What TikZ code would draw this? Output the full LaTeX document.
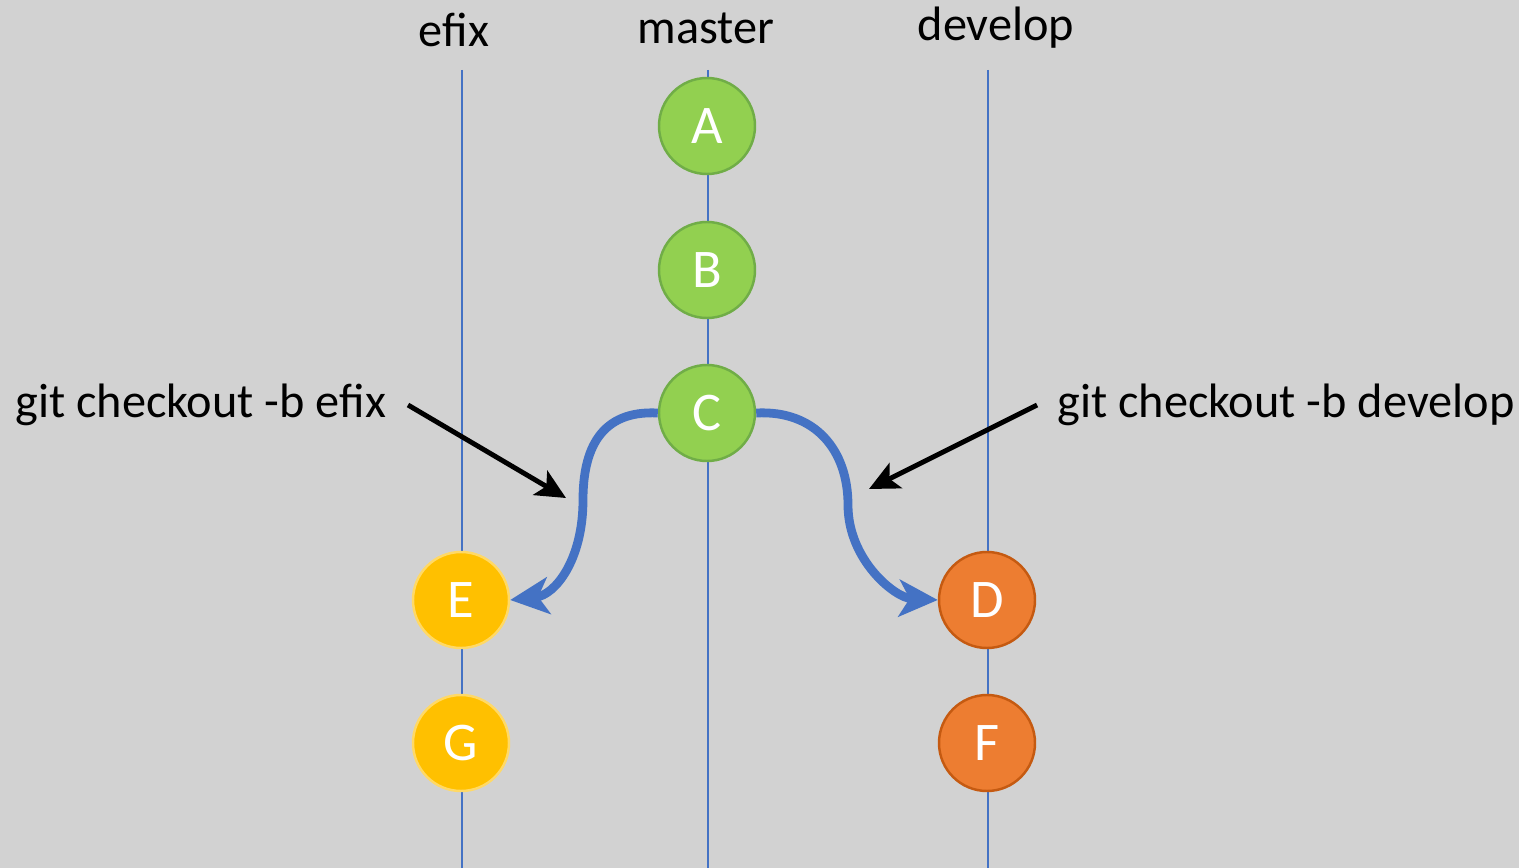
\documentclass[tikz,border=0pt]{standalone}
\usepackage{fontspec}
\setmainfont{Carlito}
\usetikzlibrary{arrows.meta}
\definecolor{bg}{HTML}{D2D2D2}
\definecolor{branch}{HTML}{4472C4}
\definecolor{gfill}{HTML}{92D050}
\definecolor{gdraw}{HTML}{70AD47}
\definecolor{ofill}{HTML}{ED7D31}
\definecolor{odraw}{HTML}{C55A11}
\definecolor{yfill}{HTML}{FFC000}
\definecolor{ydraw}{HTML}{FFD966}
\tikzset{
  commit/.style={circle, minimum size=96*0.02cm, inner sep=0pt, line width=1.4pt, text=white, font=\fontsize{31}{36}\selectfont},
  gcommit/.style={commit, fill=gfill, draw=gdraw},
  ocommit/.style={commit, fill=ofill, draw=odraw},
  ycommit/.style={commit, fill=yfill, draw=ydraw},
  bline/.style={draw=branch, line width=1.1pt},
  lbl/.style={font=\fontsize{27.5}{32}\selectfont, text=black, inner sep=0pt},
  curvearrow/.style={draw=branch, line width=5pt, -{Stealth[length=22pt,width=21pt,inset=6pt]}},
  pointer/.style={draw=black, line width=2.8pt, -{Stealth[length=17pt,width=16pt,inset=4pt]}}
}
\begin{document}
\begin{tikzpicture}[x=0.02cm,y=-0.02cm]
\fill[bg] (0,0) rectangle (1519,868);
\useasboundingbox (0,0) rectangle (1519,868);
% branch lines
\coordinate (et) at (462,70); \coordinate (eb) at (462,868);
\coordinate (mt) at (708,70); \coordinate (mb) at (708,868);
\coordinate (dt) at (988,70); \coordinate (db) at (988,868);
\draw[bline] (et) -- (eb);
\draw[bline] (mt) -- (mb);
\draw[bline] (dt) -- (db);
% branch names
\node[lbl] (le) at (454,30) {efix};
\node[lbl] (lm) at (706,28) {master};
\node[lbl] (ld) at (996,28) {develop};
% commits
\node[gcommit] (A) at (707,126) {A};
\node[gcommit] (B) at (707,270) {B};
\node[gcommit] (C) at (707,413) {C};
\node[ycommit] (E) at (461,600) {E};
\node[ycommit] (G) at (461,743) {G};
\node[ocommit] (D) at (987,600) {D};
\node[ocommit] (F) at (987,743) {F};
% curved arrows
\draw[curvearrow] (C.west) .. controls (600,410) and (583,450) .. (583,500)
   .. controls (583,560) and (555,595) .. (E.east);
\draw[curvearrow] (C.east) .. controls (815,410) and (848,450) .. (848,505)
   .. controls (848,560) and (895,598) .. (D.west);
% annotations
\node[lbl, anchor=west] (t1) at (15,405) {git checkout -b efix};
\node[lbl, anchor=west] (t2) at (1057,405) {git checkout -b develop};
\coordinate (p1s) at (408,405); \coordinate (p1e) at (566,498);
\coordinate (p2s) at (1037,405); \coordinate (p2e) at (869,489);
\draw[pointer] (p1s) -- (p1e);
\draw[pointer] (p2s) -- (p2e);
\end{tikzpicture}
\end{document}
